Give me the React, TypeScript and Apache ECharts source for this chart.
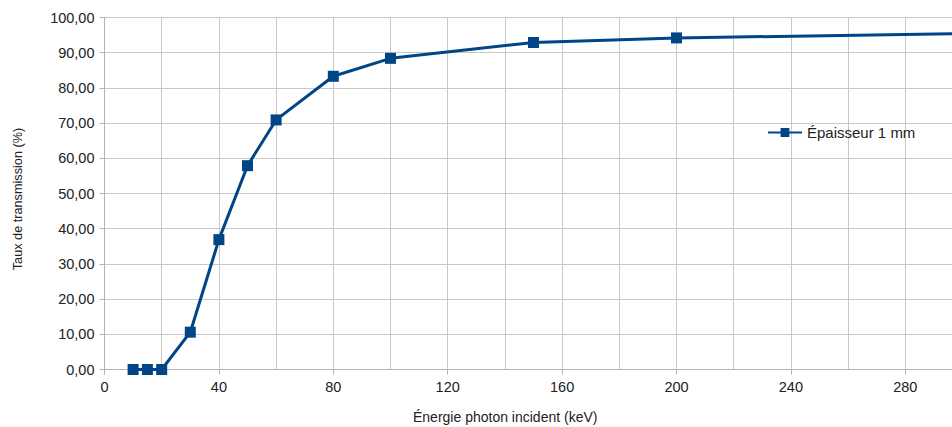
import React, { useEffect, useRef } from "react";
import * as echarts from "echarts";

const energies = [10, 15, 20, 30, 40, 50, 60, 80, 100, 150, 200, 300];
const transmission = [0, 0, 0, 10.6, 36.9, 57.9, 70.9, 83.3, 88.4, 92.9, 94.2, 95.4];
const seriesName = "Épaisseur 1 mm";
const xTitle = "Énergie photon incident (keV)";
const yTitle = "Taux de transmission (%)";

export default function App() {
  const ref = useRef<HTMLDivElement>(null);
  useEffect(() => {
    if (!ref.current) return;
    const chart = echarts.init(ref.current, undefined, { renderer: "svg" });
    const font = "Liberation Sans";
    const grey = "#b3b3b3";
    chart.setOption({
      animation: false,
      textStyle: { fontFamily: font },
      grid: { left: 104.5, top: 17.5, bottom: 57.5, right: 17.5, containLabel: false },
      legend: {
        left: 762,
        top: 120,
        itemWidth: 34,
        itemHeight: 11,
        itemGap: 4,
        textStyle: { fontFamily: font, fontSize: 15, color: "#222" },
        data: [seriesName],
      },
      xAxis: {
        type: "value",
        min: 0,
        max: 300,
        interval: 40,
        axisLine: { show: true, lineStyle: { color: grey, width: 1 } },
        axisTick: { show: true, length: 5, lineStyle: { color: grey } },
        axisLabel: { fontFamily: font, fontSize: 14.5, color: "#222", margin: 10, showMaxLabel: false },
        splitLine: { show: true, lineStyle: { color: "#c8c8c8", width: 1 } },
        minorTick: { show: false, splitNumber: 2 },
        minorSplitLine: { show: true, lineStyle: { color: "#c8c8c8", width: 1 } },
      },
      yAxis: {
        type: "value",
        min: 0,
        max: 100,
        interval: 10,
        axisLine: { show: true, lineStyle: { color: grey, width: 1 } },
        axisTick: { show: true, length: 5, lineStyle: { color: grey } },
        axisLabel: {
          fontFamily: font,
          fontSize: 14.5,
          color: "#222",
          margin: 10,
          formatter: (v: number) => v.toFixed(2).replace(".", ","),
        },
        splitLine: { show: true, lineStyle: { color: "#c8c8c8", width: 1 } },
      },
      graphic: [
        {
          type: "text",
          left: 413,
          top: 410,
          style: { text: xTitle, fontFamily: font, fontSize: 14, fill: "#222" },
        },
        {
          type: "text",
          x: 11,
          y: 199,
          rotation: Math.PI / 2,
          style: {
            text: yTitle,
            fontFamily: font,
            fontSize: 12.7,
            fill: "#222",
            align: "center",
            verticalAlign: "top",
          },
        },
      ],
      series: [
        {
          name: seriesName,
          type: "line",
          data: energies.map((e, i) => [e, transmission[i]]),
          symbol: "rect",
          symbolSize: 11,
          lineStyle: { color: "#004586", width: 3 },
          itemStyle: { color: "#004586" },
          clip: true,
        },
      ],
    });
    return () => chart.dispose();
  }, []);
  return (
    <div style={{ position: "absolute", left: 0, top: 0, width: 952, height: 427, overflow: "hidden", background: "#fff" }}>
      <div ref={ref} style={{ width: 980, height: 427 }} />
    </div>
  );
}
